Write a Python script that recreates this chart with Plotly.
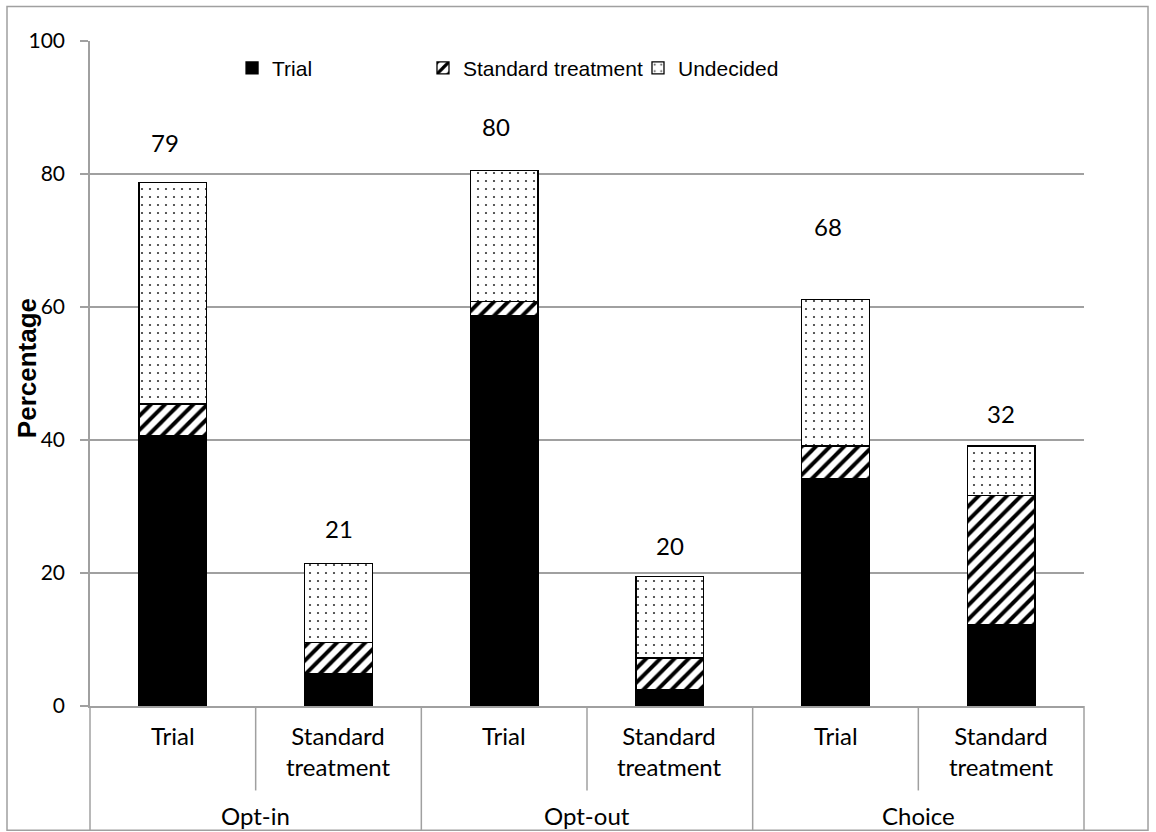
import plotly.graph_objects as go

# ---- data ----
groups = ["Opt-in", "Opt-in", "Opt-out", "Opt-out", "Choice", "Choice"]
arms = ["Trial", "Standard<br>treatment", "Trial", "Standard<br>treatment", "Trial", "Standard<br>treatment"]
group_names = ["Opt-in", "Opt-out", "Choice"]
trial = [40.7, 4.8, 58.7, 2.4, 34.2, 12.3]
standard = [4.7, 4.8, 2.1, 4.8, 4.9, 19.4]
undecided = [33.3, 11.8, 19.7, 12.3, 22.0, 7.4]
total_labels = ["79", "21", "80", "20", "68", "32"]
label_y = [84.8, 26.7, 87.2, 24.2, 72.1, 44.0]
y_ticks = [0, 20, 40, 60, 80, 100]

x = list(range(len(arms)))
n = len(arms)

GRID = "#a0a0a0"
CAT_FONT = dict(family="Lato", size=24, color="black")
TICK_FONT = dict(family="Lato", size=21, color="black")
LEG_FONT = dict(family="Liberation Sans, Arial", size=21, color="black")

fig = go.Figure()
fig.add_bar(x=x, y=trial, name="Trial", width=0.41, legend="legend",
            marker=dict(color="black", line=dict(color="black", width=1.3)))
fig.add_bar(x=x, y=standard, name="Standard treatment", width=0.41, legend="legend2",
            marker=dict(color="white", line=dict(color="black", width=1.3),
                        pattern=dict(shape="/", fgcolor="black", bgcolor="white",
                                     size=10, solidity=0.4, fillmode="replace")))
fig.add_bar(x=x, y=undecided, name="Undecided", width=0.41, legend="legend3",
            marker=dict(color="white", line=dict(color="black", width=1.3),
                        pattern=dict(shape=".", fgcolor="#333333", bgcolor="white",
                                     size=8, solidity=0.06, fillmode="replace")))

annotations = []
for i in range(n):
    annotations.append(dict(x=x[i], y=label_y[i], xref="x", yref="y", text=total_labels[i],
                            showarrow=False, font=CAT_FONT,
                            xshift=-8 if i % 2 == 0 else 0))
    annotations.append(dict(x=x[i], y=-0.02, xref="x", yref="paper", text=arms[i],
                            showarrow=False, font=CAT_FONT, yanchor="top", align="center"))
for g, name in enumerate(group_names):
    annotations.append(dict(x=2 * g + 0.5, y=-0.164, xref="x", yref="paper", text=name,
                            showarrow=False, font=CAT_FONT, yanchor="middle"))
# y-axis title
annotations.append(dict(x=-0.0634, y=0.508, xref="paper", yref="paper", text="<b>Percentage</b>",
                        textangle=-90, showarrow=False, xanchor="center", yanchor="middle",
                        font=dict(family="Liberation Sans, Arial", size=26, color="black")))

shapes = []
# category dividers below the axis
for k in range(n + 1):
    y1 = -0.187 if k % 2 == 0 else -0.127
    shapes.append(dict(type="line", xref="paper", yref="paper", x0=k / n, x1=k / n,
                       y0=0, y1=y1, line=dict(color=GRID, width=1.5)))
# chart border
shapes.append(dict(type="rect", xref="paper", yref="paper", x0=-0.0835, x1=1.0644,
                   y0=-0.187, y1=1.052, line=dict(color=GRID, width=1.5), layer="below"))

leg_common = dict(orientation="h", xanchor="left", y=0.959, yanchor="middle",
                  font=LEG_FONT, bgcolor="rgba(0,0,0,0)", itemclick=False, itemdoubleclick=False)

fig.update_layout(
    barmode="stack",
    width=1156, height=832,
    margin=dict(l=90, r=72, t=41, b=126),
    paper_bgcolor="white", plot_bgcolor="white",
    showlegend=True,
    legend=dict(x=0.1429, **leg_common),
    legend2=dict(x=0.3350, **leg_common),
    legend3=dict(x=0.5513, **leg_common),
    xaxis=dict(range=[-0.5, 5.5], showticklabels=False, showgrid=False, zeroline=False,
               showline=True, linecolor=GRID, linewidth=1.5, ticks=""),
    yaxis=dict(range=[0, 100], tickvals=y_ticks, showgrid=True, gridcolor=GRID, gridwidth=1.5,
               zeroline=False, showline=True, linecolor=GRID, linewidth=1.5,
               ticks="outside", ticklen=8, tickcolor=GRID, tickwidth=1.5,
               ticklabelstandoff=11, tickfont=TICK_FONT),
    annotations=annotations,
    shapes=shapes,
)

fig.write_html("out.html", config={"displayModeBar": False},
               post_script="document.body.style.margin='0';")
